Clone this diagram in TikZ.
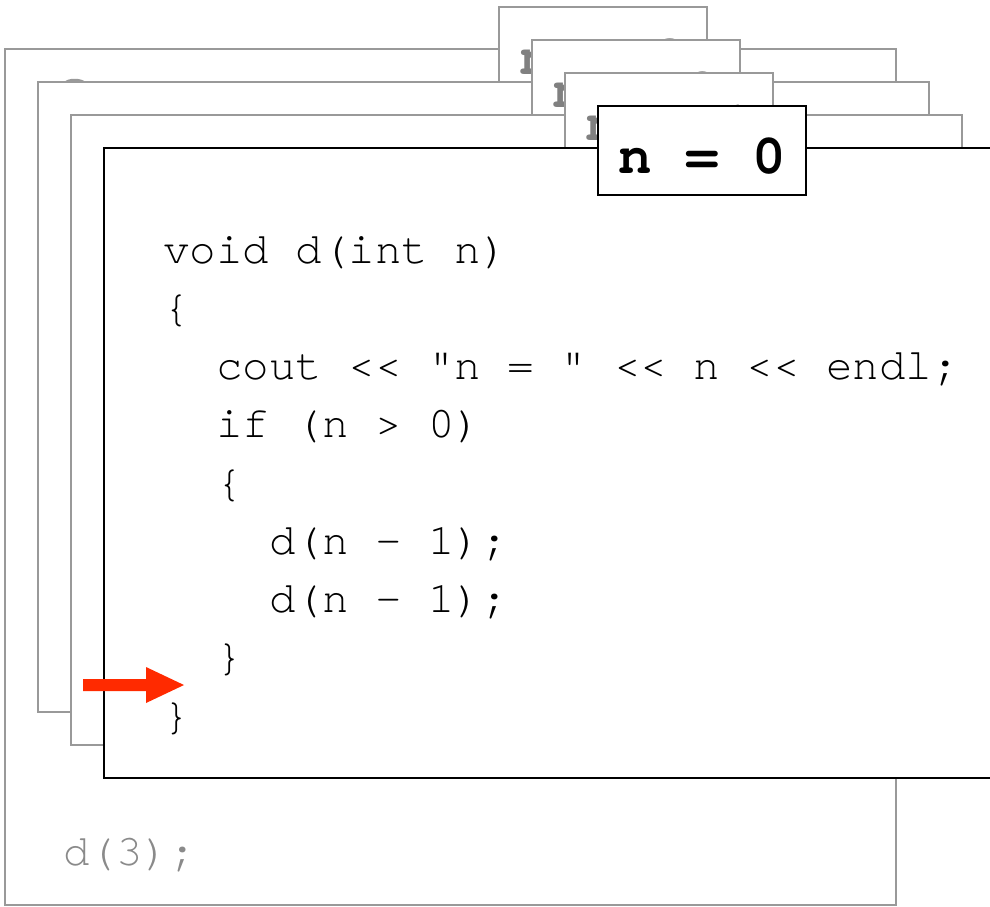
\documentclass[tikz,border=0pt]{standalone}
\usepackage{fontspec}
\setmonofont{TeX Gyre Cursor}
\definecolor{framegray}{HTML}{999999}
\definecolor{textgray}{HTML}{8A8A8A}
\definecolor{labelgray}{HTML}{808080}
\definecolor{arrowred}{HTML}{FF2A00}
\begin{document}
\begin{tikzpicture}[x=1pt,y=-1pt,
  stackframe/.style={draw=framegray, fill=white, line width=2pt, minimum width=891pt, minimum height=630pt, anchor=north west, inner sep=0pt, outer sep=0pt},
  tabbox/.style={draw=framegray, fill=white, line width=2pt, minimum width=208pt, minimum height=89pt, anchor=north west, inner sep=0pt, outer sep=0pt},
  tablabel/.style={font=\ttfamily\bfseries\fontsize{56}{60}\selectfont, text=labelgray, anchor=base, inner sep=0pt},
  codeline/.style={font=\ttfamily\fontsize{44.2}{50}\selectfont, anchor=base west, inner sep=0pt}]
\useasboundingbox (0,0) rectangle (990,906);
% frame 0 (main)
\node[stackframe, minimum height=856pt] (f0) at (5,49) {};
\node[codeline, text=textgray] (main) at (63,865) {d(3);};
\fill[framegray] (64,82.5) .. controls (67,77.5) and (82,77.5) .. (86,82.5) -- cycle;
\node[tabbox] (t0) at (499,7) {};
\node[tablabel] (l0) at (603,74) {n = 3};
% frame 1
\node[stackframe] (f1) at (38,82) {};
\node[tabbox] (t1) at (532,40) {};
\node[tablabel] (l1) at (636,107) {n = 2};
% frame 2
\node[stackframe] (f2) at (71,115) {};
\node[tabbox] (t2) at (565,73) {};
\node[tablabel] (l2) at (669,140) {n = 1};
% frame 3 (front)
\node[stackframe, draw=black] (f3) at (104,148) {};
\node[tabbox, draw=black] (t3) at (598,106) {};
\node[tablabel, text=black] (l3) at (702,173) {n = 0};
% code
\node[codeline] (c0) at (163,263) {void d(int n)};
\node[codeline] (c1) at (163,321.25) {\{};
\node[codeline] (c2) at (216,379.5) {cout << "n = " << n << endl;};
\node[codeline] (c3) at (216,437.75) {if (n > 0)};
\node[codeline] (c4) at (216,496) {\{};
\node[codeline] (c5) at (269,554.25) {d(n - 1);};
\node[codeline] (c6) at (269,612.5) {d(n - 1);};
\node[codeline] (c7) at (216,670.75) {\}};
\node[codeline] (c8) at (163,729) {\}};
% pointer arrow
\coordinate (a0) at (83,679);
\coordinate (a1) at (146,679);
\coordinate (a2) at (146,667);
\coordinate (tip) at (184,685);
\coordinate (a3) at (146,703);
\coordinate (a4) at (146,691);
\coordinate (a5) at (83,691);
\fill[arrowred] (a0) -- (a1) -- (a2) -- (tip) -- (a3) -- (a4) -- (a5) -- cycle;
\end{tikzpicture}
\end{document}
